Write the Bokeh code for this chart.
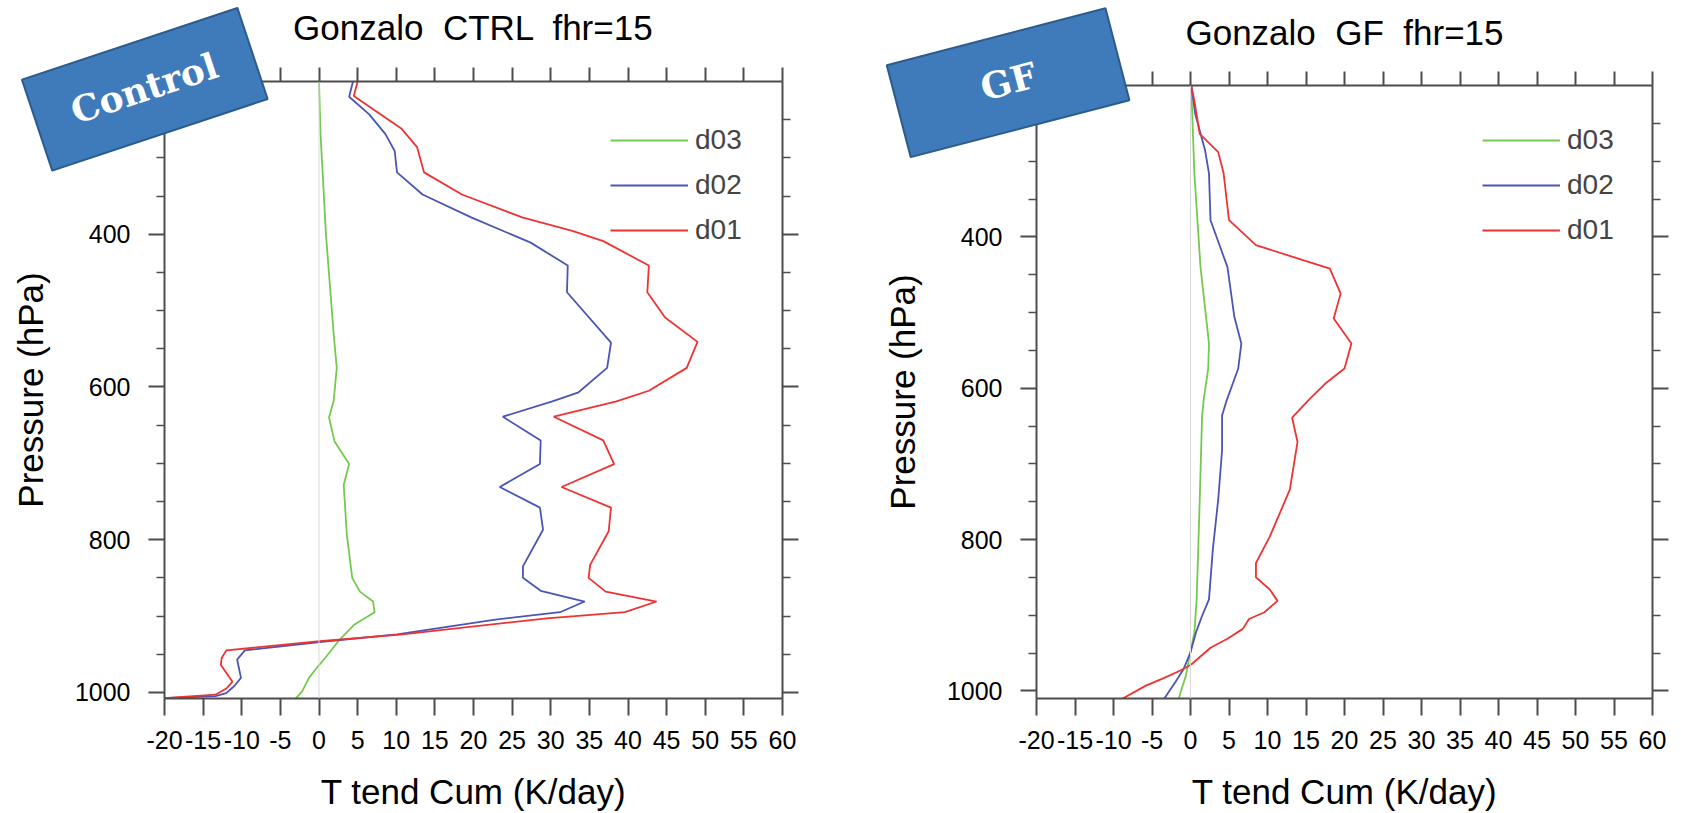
import numpy as np
from bokeh.plotting import figure
from bokeh.models import (Range1d, FixedTicker, LinearAxis, Span, Legend, LegendItem)
from bokeh.core.properties import value
from bokeh.embed import file_html
from bokeh.resources import INLINE

# ---------------- data ----------------
x_ticks = list(range(-20, 61, 5))
p_major = [400, 600, 800, 1000]
p_minor = [250, 300, 350, 450, 500, 550, 650, 700, 750, 850, 900, 950]
series_names = ["d03", "d02", "d01"]
panel_tags = ["Control", "GF"]
panel_titles = ["Gonzalo \u00a0CTRL \u00a0fhr=15", "Gonzalo \u00a0GF \u00a0fhr=15"]

# Control run
ctrl_d01_p = [200, 219, 262, 286, 319, 348, 378, 396, 409, 441, 476, 509, 541, 575, 605, 619, 639,
              670, 701, 731, 758, 789, 833, 850, 868, 881, 895, 903, 924, 933, 945, 955, 964, 986,
              995, 1003, 1008]
ctrl_d01_t = [5.0, 4.5, 10.7, 12.7, 13.6, 18.5, 26.3, 32.9, 36.8, 42.7, 42.5, 44.8, 49.0, 47.6, 42.7,
              38.5, 30.4, 36.8, 38.2, 31.4, 37.8, 37.5, 35.1, 34.9, 37.1, 43.7, 39.6, 29.5, 10.8, 0.1,
              -12.0, -12.6, -12.7, -11.2, -12.0, -13.4, -21.0]
ctrl_d02_p = [200, 220, 243, 269, 291, 319, 348, 378, 411, 441, 476, 542, 575, 607, 619, 639, 670,
              701, 731, 758, 787, 835, 850, 867, 881, 895, 905, 924, 934, 945, 957, 981, 992, 1001,
              1005, 1008]
ctrl_d02_t = [4.4, 3.9, 6.5, 8.6, 9.8, 10.1, 13.4, 19.7, 27.4, 32.2, 32.1, 37.8, 37.3, 33.6, 30.2,
              23.8, 28.7, 28.6, 23.4, 28.6, 29.0, 26.4, 26.4, 28.7, 34.4, 31.2, 22.6, 10.1, 0.1, -9.6,
              -10.6, -10.1, -11.0, -12.0, -13.4, -21.0]
ctrl_d03_p = [200, 269, 400, 531, 575, 618, 640, 671, 701, 728, 793, 850, 868, 881, 895, 911, 933,
              955, 968, 981, 999, 1010]
ctrl_d03_t = [0.0, 0.2, 0.9, 1.9, 2.3, 1.9, 1.3, 2.0, 3.9, 3.2, 3.6, 4.3, 5.3, 7.0, 7.2, 4.6, 2.5,
              0.8, -0.3, -1.3, -2.2, -3.2]

# GF run
gf_d01_p = [200, 220, 264, 288, 316, 378, 411, 442, 475, 508, 541, 574, 593, 616, 639, 671, 734,
            765, 796, 831, 850, 866, 881, 896, 905, 918, 931, 943, 965, 973, 984, 993, 1010]
gf_d01_t = [0.1, 0.5, 1.2, 3.6, 4.3, 5.0, 8.5, 18.1, 19.5, 18.6, 20.9, 20.0, 17.6, 15.3, 13.2, 13.9,
            12.9, 11.6, 10.3, 8.5, 8.5, 10.3, 11.3, 9.6, 7.6, 6.8, 4.8, 2.6, 0.1, -1.3, -3.7, -5.8,
            -8.8]
gf_d02_p = [200, 237, 286, 316, 378, 440, 506, 541, 574, 616, 636, 682, 747, 813, 879, 901, 923,
            949, 971, 989, 1010]
gf_d02_t = [0.1, 0.6, 1.9, 2.4, 2.6, 4.8, 5.7, 6.6, 6.2, 4.7, 4.1, 4.1, 3.6, 2.9, 2.4, 1.5, 0.7,
            0.0, -0.9, -2.0, -3.4]
gf_d03_p = [200, 316, 440, 541, 574, 616, 638, 747, 879, 923, 958, 980, 1002, 1010]
gf_d03_t = [0.1, 0.5, 1.3, 2.4, 2.3, 1.7, 1.5, 1.2, 0.8, 0.5, -0.2, -0.6, -1.3, -1.5]

# ---------------- styling ----------------
COLORS = {"d03": "#74c94f", "d02": "#4a55b5", "d01": "#ee3333"}
AXC = "#4d4d4d"
FONT = "Liberation Sans"
X_LABELS = {t: str(t) for t in x_ticks}
W, H = 1681, 813


def place(left_px):
    return {"position": "absolute", "left": f"{left_px}px", "top": "0px"}


def style_axis(ax, tick_out, labels=True):
    ax.axis_line_color = AXC
    ax.axis_line_width = 2
    ax.major_tick_line_color = AXC
    ax.major_tick_line_width = 2
    ax.minor_tick_line_color = AXC
    ax.minor_tick_line_width = 1.5
    ax.major_tick_in = 0
    ax.major_tick_out = tick_out
    ax.minor_tick_in = 0
    ax.minor_tick_out = 8
    ax.major_label_text_font = FONT
    ax.axis_label_text_font = FONT
    ax.axis_label_text_font_style = "normal"
    ax.axis_label_text_font_size = "35px"
    ax.axis_label_text_color = "black"
    if labels:
        ax.major_label_text_font_size = "25px"
        ax.major_label_text_color = "black"
    else:
        ax.major_label_text_font_size = "1px"
        ax.major_label_text_color = None
        ax.major_label_standoff = 0


def make_panel(x0, width, borders, ymax, data, legend_loc):
    ml, mr, mt, mb = borders
    p = figure(width=width, height=H, x_range=Range1d(-20, 60), y_range=Range1d(ymax, 200),
               output_backend="svg", toolbar_location=None,
               min_border_left=ml, min_border_right=mr, min_border_top=mt, min_border_bottom=mb,
               styles=place(x0))
    p.grid.visible = False
    p.outline_line_color = None
    p.background_fill_color = "white"
    p.border_fill_color = "white"

    xt = FixedTicker(ticks=x_ticks, minor_ticks=[])
    yt = FixedTicker(ticks=p_major, minor_ticks=p_minor)

    xb = p.xaxis[0]
    xb.ticker = xt
    xb.major_label_overrides = X_LABELS
    xb.axis_label = "T tend Cum (K/day)"
    style_axis(xb, 17)
    xb.major_label_standoff = 15
    xb.axis_label_standoff = 20

    yl = p.yaxis[0]
    yl.ticker = yt
    yl.axis_label = "Pressure (hPa)"
    style_axis(yl, 16)
    yl.major_label_standoff = 18
    yl.axis_label_standoff = 22

    xa = LinearAxis(ticker=xt)
    style_axis(xa, 14, labels=False)
    p.add_layout(xa, "above")
    yr = LinearAxis(ticker=yt)
    style_axis(yr, 16, labels=False)
    p.add_layout(yr, "right")

    p.add_layout(Span(location=0, dimension="height", line_color="#d8d8d8", line_width=1))

    rends = {}
    for name in series_names:
        pp, tt = data[name]
        rends[name] = p.line(tt, pp, line_color=COLORS[name], line_width=1.8)

    legend = Legend(items=[LegendItem(label=n, renderers=[rends[n]]) for n in series_names],
                    location=legend_loc, glyph_width=78, glyph_height=30, label_height=30,
                    label_standoff=7, spacing=13, padding=0, margin=0,
                    border_line_color=None, background_fill_alpha=0,
                    label_text_font=FONT, label_text_font_size="28px")
    p.add_layout(legend)
    return p


left = make_panel(0, 850, (164, 68, 81, 115), 1008,
                  {"d01": (ctrl_d01_p, ctrl_d01_t), "d02": (ctrl_d02_p, ctrl_d02_t),
                   "d03": (ctrl_d03_p, ctrl_d03_t)}, (446, 452))
right = make_panel(850, 831, (186, 29, 85, 114), 1010,
                   {"d01": (gf_d01_p, gf_d01_t), "d02": (gf_d02_p, gf_d02_t),
                    "d03": (gf_d03_p, gf_d03_t)}, (446, 452))

# ---------------- overlay: panel titles and rotated tag boxes (page pixel space) ----------------
ov_style = place(0)
ov_style.update({"z-index": "10", "pointer-events": "none"})
ov = figure(width=W, height=H, x_range=Range1d(0, W), y_range=Range1d(H, 0),
            x_axis_type=None, y_axis_type=None, output_backend="svg", toolbar_location=None,
            min_border=0, outline_line_color=None, styles=ov_style)
ov.grid.visible = False
ov.background_fill_color = None
ov.border_fill_color = None

# titles centred over each frame
title_pos = [(473.0, 26.5), (1344.0, 31.5)]
ov.text([q[0] for q in title_pos], [q[1] for q in title_pos], text=panel_titles,
        text_align="center", text_baseline="middle", text_color="black",
        text_font=value(FONT), text_font_size="35px")

# centre (page px), size, rotation (deg, counter-clockwise), text centre
tag_geom = [((144.3, 88.8), 227, 96, 18.4, (143.6, 87.5)),
            ((1007.6, 82.2), 226, 95, 14.6, (1008.0, 80.5))]
for tag, ((cx, cy), bw, bh, ang, (tx, ty)) in zip(panel_tags, tag_geom):
    th = np.radians(ang)
    u = np.array([np.cos(th), -np.sin(th)])
    v = np.array([np.sin(th), np.cos(th)])
    c = np.array([cx, cy])
    pts = [c - bw / 2 * u - bh / 2 * v, c + bw / 2 * u - bh / 2 * v,
           c + bw / 2 * u + bh / 2 * v, c - bw / 2 * u + bh / 2 * v]
    ov.patch([q[0] for q in pts], [q[1] for q in pts], fill_color="#3f7abb",
             line_color="#2b5c8c", line_width=2)
    ov.text([tx], [ty], text=[tag], angle=th, text_align="center", text_baseline="middle",
            text_color="white", text_font=value("DejaVu Serif"), text_font_style="bold",
            text_font_size="36px")

open("out.html", "w").write(file_html([left, right, ov], INLINE))
